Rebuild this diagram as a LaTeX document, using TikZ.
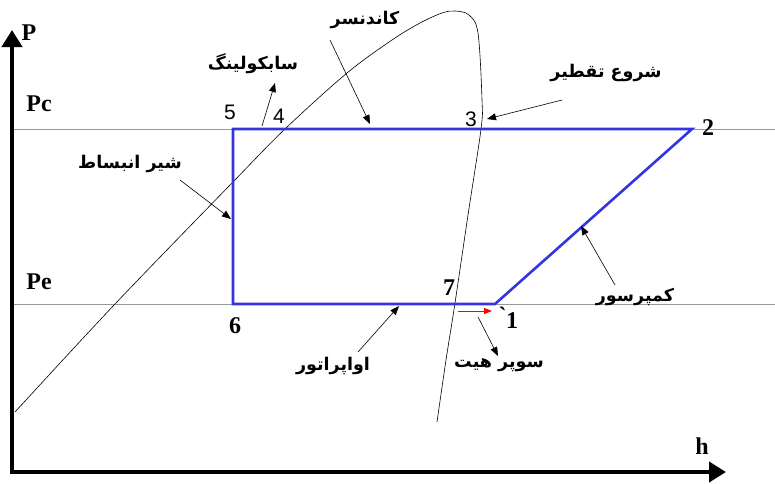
\documentclass[tikz,border=0pt]{standalone}
\usepackage{fontspec}
\setmainfont{Liberation Serif}
\newfontfamily\arabicfont[Script=Arabic]{DejaVu Sans}
\newfontfamily\numsans{Liberation Sans}
\TeXXeTstate=1
\usetikzlibrary{arrows.meta}
\definecolor{cycblue}{RGB}{52,52,225}
\tikzset{
  fa/.style={font=\arabicfont\bfseries\fontsize{17.5}{19}\selectfont, inner sep=0pt},
  num/.style={font=\bfseries\fontsize{24}{26}\selectfont, inner sep=0pt},
  numsf/.style={font=\numsans\fontsize{21}{24}\selectfont, inner sep=0pt},
  axlab/.style={font=\bfseries\fontsize{24}{26}\selectfont, inner sep=0pt},
  ptr/.style={-{Triangle[width=7pt,length=9pt]}, line width=0.6pt},
  isobar/.style={gray!80, line width=0.8pt},
  cycle/.style={cycblue, line width=2.6pt, line join=miter},
  axis/.style={line width=4pt, -{Triangle[width=20pt,length=17pt]}},
}
\begin{document}
\begin{tikzpicture}[x=1pt,y=-1pt]
\useasboundingbox (0,0) rectangle (775,483);
% isobars
\coordinate (pcL) at (12,129); \coordinate (pcR) at (775,129);
\coordinate (peL) at (12,304); \coordinate (peR) at (775,304);
\draw[isobar] (pcL) -- (pcR);
\draw[isobar] (peL) -- (peR);
% saturation dome
\draw[line width=0.6pt] plot[smooth, tension=0.55] coordinates {
 (15,412) (115,304) (232,183) (285,129) (347,73) (392,40) (420,23) (442,13) (455,11) (469,15) (478,33) (482,100) (481,129) (468,215) (455,303) (446,360) (437,422)};
% cycle
\coordinate (p5) at (233,129);
\coordinate (p2) at (692,129);
\coordinate (p1) at (495,304);
\coordinate (p6) at (233,304);
\draw[cycle] (p5) -- (p2) -- (p1) -- (p6) -- cycle;
% axes
\coordinate (O) at (12,472);
\coordinate (ytop) at (12,30);
\coordinate (xend) at (726,472);
\draw[axis] ([yshift=-2pt]O) -- (ytop);
\draw[axis] ([xshift=-2pt]O) -- (xend);
\node[axlab] (P) at (29,33) {P};
\node[axlab] (h) at (702,446) {h};
\node[axlab] (Pc) at (39,104) {Pc};
\node[axlab] (Pe) at (39,282) {Pe};
% point numbers
\node[numsf] (n5) at (230,112) {5};
\node[numsf] (n4) at (279,116) {4};
\node[numsf] (n3) at (471,119) {3};
\node[num] (n2) at (708,128) {2};
\node[num] (n6) at (235,326) {6};
\node[num] (n7) at (449,288) {7};
\node[num] (n1) at (509,318) {\`{}1};
% labels with arrows
\node[fa] (cond) at (365,20) {\beginR کاندنسر\endR};
\coordinate (condS) at (330,40); \coordinate (condT) at (370,124);
\draw[ptr] (condS) -- (condT);
\node[fa] (sub) at (253,64) {\beginR سابکولینگ\endR};
\coordinate (subS) at (262,126); \coordinate (subT) at (275,83);
\draw[ptr] (subS) -- (subT);
\node[fa] (start) at (606,73) {\beginR شروع تقطیر\endR};
\coordinate (startS) at (562,100); \coordinate (startT) at (487,119);
\draw[ptr] (startS) -- (startT);
\node[fa] (valve) at (130,164) {\beginR شیر انبساط\endR};
\coordinate (valveS) at (180,180); \coordinate (valveT) at (231,219);
\draw[ptr] (valveS) -- (valveT);
\node[fa] (comp) at (635,297) {\beginR کمپرسور\endR};
\coordinate (compS) at (615,285); \coordinate (compT) at (581,226);
\draw[ptr] (compS) -- (compT);
\node[fa] (evap) at (333,366) {\beginR اواپراتور\endR};
\coordinate (evapS) at (358,352); \coordinate (evapT) at (399,306);
\draw[ptr] (evapS) -- (evapT);
\node[fa] (sh) at (499,365) {\beginR سوپر هیت\endR};
\coordinate (shS) at (478,317); \coordinate (shT) at (498,356);
\draw[ptr] (shS) -- (shT);
% superheat red arrow
\coordinate (rS) at (458,311); \coordinate (rT) at (492,311);
\draw[red, line width=1pt, -{Triangle[width=6pt,length=8pt]}] (rS) -- (rT);
\end{tikzpicture}
\end{document}
